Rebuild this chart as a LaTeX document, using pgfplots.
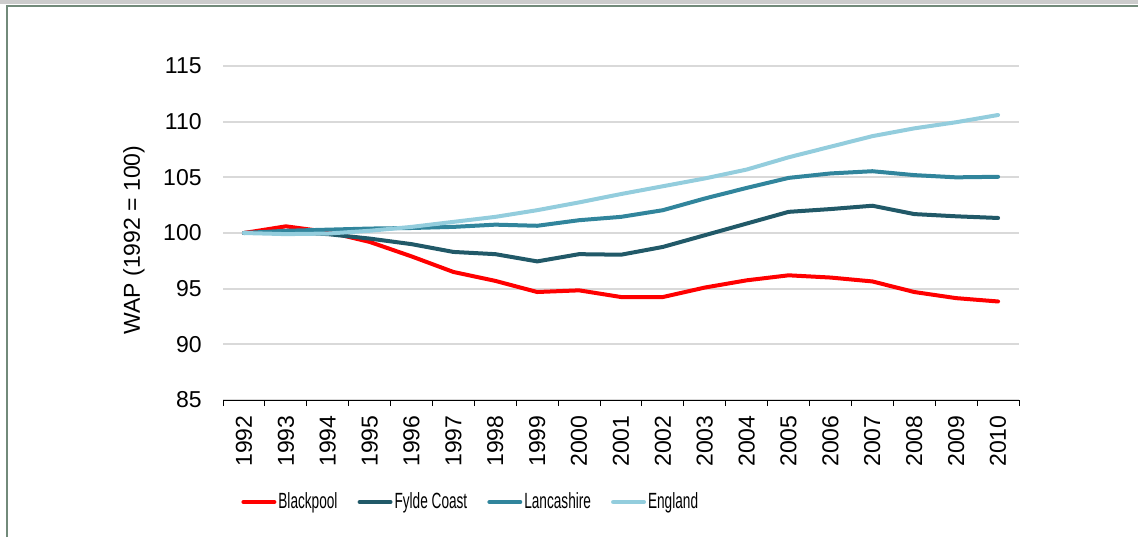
\documentclass[border=0pt]{standalone}
\usepackage{fontspec}
\setmainfont{Liberation Sans}
\newfontfamily\legendfont[FakeStretch=0.62]{Liberation Sans}
\usepackage{pgfplots}
\pgfplotsset{compat=1.18}
\definecolor{cBlackpool}{HTML}{FF0000}
\definecolor{cFylde}{HTML}{215968}
\definecolor{cLancs}{HTML}{31859C}
\definecolor{cEngland}{HTML}{93CDDD}
\definecolor{cGrid}{HTML}{D9D9D9}
\definecolor{cFrame}{HTML}{728A7A}
\definecolor{cBand}{HTML}{CCCCCC}
\begin{document}
\begin{tikzpicture}
\useasboundingbox (0,0) rectangle (569pt,268.5pt);
\fill[cBand] (0,266.5pt) rectangle (569pt,268.5pt);
\draw[cFrame, line width=1pt] (3.5pt,0) -- (3.5pt,265.65pt) -- (569pt,265.65pt);
\begin{axis}[
  at={(111.5pt,68.5pt)}, anchor=south west,
  scale only axis, width=398pt, height=167pt,
  xmin=1991.5, xmax=2010.5, ymin=85, ymax=115,
  ytick={85,90,...,115},
  xtick={1992,...,2010},
  minor xtick={1991.5,1992.5,...,2010.5},
  major tick length=0pt,
  major x tick style={draw=none},
  minor x tick style={black, line width=0.5pt},
  minor tick length=3pt,
  tick align=outside,
  axis x line*=bottom,
  axis y line*=left,
  y axis line style={draw=none},
  ytick style={draw=none},
  x axis line style={black, line width=0.5pt, -},
  ymajorgrids, grid style={cGrid, line width=0.9pt},
  /pgf/number format/assume math mode=true,
  /pgf/number format/1000 sep={},
  xticklabel style={rotate=90, anchor=east, inner sep=0pt, xshift=-7.5pt, font=\fontsize{11.5}{13}\selectfont},
  yticklabel style={anchor=east, inner sep=0pt, xshift=-10.5pt, font=\fontsize{11.5}{13}\selectfont},
  ylabel={WAP (1992 = 100)},
  ylabel style={at={(axis description cs:-0.1118,0.479)}, anchor=center, font=\fontsize{11.5}{13}\selectfont},
  legend columns=4,
  legend style={at={(axis description cs:0.0226,-0.3054)}, anchor=west, draw=none, fill=none, inner sep=0pt,
    font=\legendfont\fontsize{11}{13}\selectfont,
    column sep=0pt,
    nodes={inner xsep=0pt, inner ysep=1pt},
    /tikz/every even column/.style={column sep=0pt},
    /tikz/every odd column/.style={column sep=0pt}},
  legend image code/.code={\draw[#1, line width=2.2pt, line cap=round] (1.1pt,0pt) -- (16.4pt,0pt);},
  every axis plot/.append style={line width=2pt, line cap=round, line join=round, mark=none},
]
\addplot[cBlackpool] coordinates {(1992,100) (1993,100.6) (1994,100.1) (1995,99.2) (1996,97.9) (1997,96.5) (1998,95.7) (1999,94.7) (2000,94.85) (2001,94.25) (2002,94.25) (2003,95.1) (2004,95.75) (2005,96.2) (2006,96.0) (2007,95.65) (2008,94.7) (2009,94.15) (2010,93.85)};
\addlegendentry{\kern1pt Blackpool\kern10pt}
\addplot[cFylde] coordinates {(1992,100) (1993,100.1) (1994,99.9) (1995,99.5) (1996,99.0) (1997,98.3) (1998,98.1) (1999,97.45) (2000,98.1) (2001,98.05) (2002,98.75) (2003,99.8) (2004,100.85) (2005,101.9) (2006,102.15) (2007,102.45) (2008,101.7) (2009,101.5) (2010,101.35)};
\addlegendentry{\kern1pt Fylde Coast\kern10pt}
\addplot[cLancs] coordinates {(1992,100) (1993,100.2) (1994,100.3) (1995,100.4) (1996,100.45) (1997,100.55) (1998,100.75) (1999,100.65) (2000,101.15) (2001,101.45) (2002,102.05) (2003,103.1) (2004,104.05) (2005,104.95) (2006,105.35) (2007,105.55) (2008,105.2) (2009,105.0) (2010,105.05)};
\addlegendentry{\kern1pt Lancashire\kern10pt}
\addplot[cEngland] coordinates {(1992,100) (1993,99.9) (1994,99.95) (1995,100.2) (1996,100.55) (1997,101.0) (1998,101.45) (1999,102.05) (2000,102.75) (2001,103.5) (2002,104.2) (2003,104.9) (2004,105.7) (2005,106.8) (2006,107.75) (2007,108.7) (2008,109.4) (2009,109.95) (2010,110.6)};
\addlegendentry{\kern1pt England}
\end{axis}
\end{tikzpicture}
\end{document}
